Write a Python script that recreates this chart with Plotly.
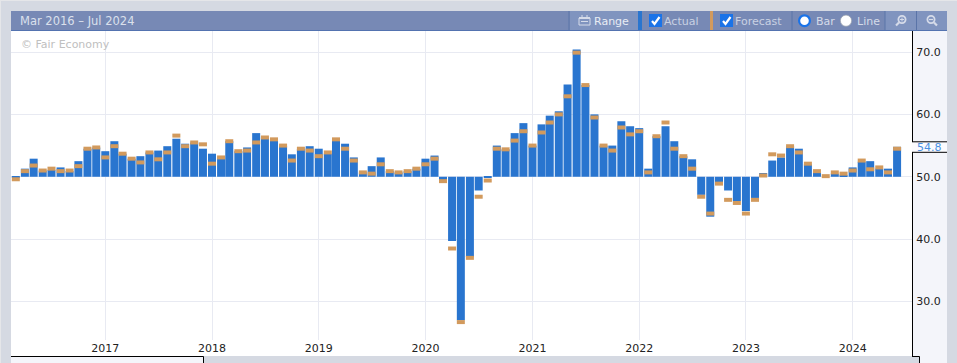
import plotly.graph_objects as go
import pandas as pd

months = pd.date_range("2016-03-01", periods=100, freq="MS").strftime("%Y-%m-%d").tolist()
actual = [49.9,51.3,52.9,51.0,51.1,51.5,50.9,52.5,54.5,54.7,
          54.1,55.7,53.7,52.9,53.3,53.9,54.2,54.9,56.1,55.3,55.5,54.5,
          53.7,53.1,55.7,54.1,54.7,57.0,56.3,56.0,55.0,53.6,54.5,54.9,
          54.5,53.7,56.0,55.3,53.1,50.7,51.7,53.1,50.9,50.7,50.9,51.3,
          52.9,53.4,49.3,39.7,27.0,37.1,47.8,49.9,55.0,54.4,57.0,58.6,
          55.0,58.4,59.8,60.5,64.8,70.4,64.7,60.0,55.0,55.0,58.9,58.1,
          57.8,51.3,56.5,58.1,55.7,53.3,52.8,47.1,43.6,49.1,47.8,46.1,
          44.5,46.6,50.6,52.6,53.1,54.9,54.5,52.0,50.7,50.0,50.5,50.3,
          51.5,52.4,52.5,51.3,51.3,54.8]
forecast = [49.6,50.9,51.8,51.0,51.3,50.9,51.0,51.7,54.5,54.7,
            53.1,54.9,53.7,52.9,52.3,53.9,52.8,53.9,56.6,54.9,55.5,55.2,
            52.1,53.1,55.7,54.1,54.2,55.5,56.3,56.0,55.0,52.6,54.5,54.2,
            53.3,53.9,56.0,54.5,52.6,50.7,50.5,52.0,50.9,50.7,50.9,51.3,
            52.0,52.9,49.3,38.5,26.7,37.0,46.8,49.4,54.5,54.4,55.8,57.3,
            55.0,57.1,58.7,60.0,62.9,69.9,64.7,59.5,55.0,54.2,57.9,56.8,
            57.3,50.7,56.5,58.7,54.5,53.3,51.3,46.8,44.1,48.9,46.3,45.8,
            44.1,46.3,50.2,53.6,53.4,54.9,53.9,52.1,50.9,50.1,50.7,50.5,
            51.0,52.6,51.2,51.5,50.7,54.5]
year_ticks = ["2017-01-01","2018-01-01","2019-01-01","2020-01-01",
              "2021-01-01","2022-01-01","2023-01-01","2024-01-01"]
year_labels = ["2017","2018","2019","2020","2021","2022","2023","2024"]
value_ticks = [30, 40, 50, 60, 70]
value_labels = ["30.0","40.0","50.0","60.0","70.0"]
period_label = "Mar 2016 – Jul 2024"

W, H = 957, 363
L, R, T, B = 11, 912, 31, 340
FONT = "DejaVu Sans"
BLUE, ORANGE = "#2975cf", "#d29a5d"
BG, PANEL, HEAD, HEAD2 = "#d5d9e2", "#f4f5fa", "#7789b5", "#8094bf"
SEP = "#5a74a8"
GRID = "#e8eaf2"
ICON = "#d5dbe9"
BASE = 50
MARK = 0.64
BAR_MS = 27.36 * 86400000

px = lambda x: x / W
py = lambda y: 1 - y / H

fig = go.Figure()
# opacity just below 1 makes Plotly snap the bar edges to whole pixels, with no stroke halo
fig.add_bar(x=months, y=[a - BASE for a in actual], base=[BASE] * len(actual),
            width=BAR_MS, marker=dict(color=BLUE, opacity=0.999, line_width=0),
            name="Actual", hoverinfo="skip")
fig.add_bar(x=months, y=[MARK] * len(forecast), base=[f - MARK / 2 for f in forecast],
            width=BAR_MS, marker=dict(color=ORANGE, opacity=0.999, line_width=0),
            name="Forecast", hoverinfo="skip")
# clipped "2016" tick label at the left edge, hidden by the frame shape except for its tail
fig.add_scatter(x=["2016-01-01"], y=[22.4], mode="text", text=["2016"], cliponaxis=False,
                textfont=dict(family=FONT, size=11, color="#222"), hoverinfo="skip", showlegend=False)

shapes = []
def rect(x0, y0, x1, y1, color, layer="below", line=None):
    shapes.append(dict(type="rect", xref="paper", yref="paper", x0=px(x0), x1=px(x1),
                       y0=py(y1), y1=py(y0), fillcolor=color, layer=layer,
                       line=dict(width=0) if line is None else line))
def seg(x0, y0, x1, y1, color="#000", width=1, layer="above"):
    shapes.append(dict(type="line", xref="paper", yref="paper", x0=px(x0), x1=px(x1),
                       y0=py(y0), y1=py(y1), line=dict(color=color, width=width), layer=layer))
def circle(cx, cy, r, fill, lc, lw, layer="above"):
    shapes.append(dict(type="circle", xref="paper", yref="paper", x0=px(cx - r), x1=px(cx + r),
                       y0=py(cy + r), y1=py(cy - r), fillcolor=fill, layer=layer,
                       line=dict(color=lc, width=lw)))

def path(points, color, width, fill="rgba(0,0,0,0)", close=False):
    d = "M" + " L".join(f"{px(x):.5f},{py(y):.5f}" for x, y in points) + (" Z" if close else "")
    shapes.append(dict(type="path", xref="paper", yref="paper", path=d, fillcolor=fill,
                       line=dict(color=color, width=width), layer="above"))

# white plot ground down to the axis labels
rect(L, T, R, 356, "#ffffff")
# right axis panel
rect(912, T, 947, 356, PANEL)
rect(919, 356, 947, 363, PANEL)
rect(912, 142, 947, 152, "#fbfbfe")
seg(912.5, T, 912.5, 142); seg(912.5, 152, 912.5, 356.5)
seg(912, 141.8, 947, 141.8); seg(912, 152.3, 947, 152.3)
seg(912, 356.5, 919.5, 356.5); seg(919.5, 356.5, 919.5, 363)
# range navigator
rect(L, 356.5, 203, 363, PANEL)
seg(L, 356.5, 203.5, 356.5); seg(203.5, 356.5, 203.5, 363)
# frame, above the traces
rect(0, 0, L, 363, BG, "above")
rect(0, 0, 1, 363, "#e5e6e9", "above")
rect(0, 0, W, 1, "#e5e6e9", "above")
# header
rect(L, 11, 947, 31, HEAD, "above")
rect(L, 30, 947, 31, "#5373b0", "above")
rect(570, 11, 638, 30, HEAD2, "above")
rect(885, 11, 916, 30, HEAD2, "above")
rect(917, 11, 947, 30, HEAD2, "above")
for x in (569, 792, 885, 916.5):
    seg(x, 11, x, 30, SEP, 1)
rect(638, 11, 642, 30, BLUE, "above")
rect(710, 11, 713, 30, ORANGE, "above")

# checkboxes
for x0 in (649, 720):
    shapes.append(dict(type="rect", xref="paper", yref="paper", x0=px(x0), x1=px(x0 + 13),
                       y0=py(27), y1=py(14), fillcolor="#1a73e8", layer="above", line=dict(width=0)))
    path([(x0 + 3, 21), (x0 + 5.5, 24), (x0 + 10.5, 17)], "#ffffff", 2.2)
# radios
circle(804.5, 20.7, 5.4, "#ffffff", "#1a73e8", 2.2)
circle(846, 20.7, 5.6, "#ffffff", "#9aa0ac", 0.7)
# calendar icon
rect(579, 18, 590, 25, "rgba(0,0,0,0)", "above", dict(color=ICON, width=1))
seg(579, 18, 590, 18, ICON, 2)
seg(582, 15, 582, 18, ICON, 1); seg(587, 15, 587, 18, ICON, 1)
seg(581, 21.5, 588, 21.5, ICON, 1)
# zoom icons
circle(902, 19.5, 3.6, "rgba(0,0,0,0)", ICON, 1.8)
seg(899, 22.5, 896, 25.5, ICON, 2.2)
seg(900, 19.5, 904, 19.5, ICON, 1); seg(902, 17.5, 902, 21.5, ICON, 1)
circle(931, 19.5, 3.6, "rgba(0,0,0,0)", ICON, 1.8)
seg(934, 22.5, 937, 25.5, ICON, 2.2)
seg(929, 19.5, 933, 19.5, ICON, 1.2)

def label(x, y, text, color, size=11, anchor="left"):
    return dict(xref="paper", yref="paper", x=px(x), y=py(y), text=text, showarrow=False,
                xanchor=anchor, yanchor="middle", xshift=0, yshift=0,
                font=dict(family=FONT, size=size, color=color), borderpad=0, borderwidth=0)

annotations = [
    label(20, 21, period_label, "#dbe0ec", 11.5),
    label(594, 21, "Range", "#e8ecf4"),
    label(664, 21, "Actual", "#c9d1e3"),
    label(735, 21, "Forecast", "#c9d1e3"),
    label(816, 21, "Bar", "#d5dbe9"),
    label(857, 21, "Line", "#d5dbe9"),
    label(21, 44, "© Fair Economy", "#c0c0c0"),
    label(917, 147, f"{actual[-1]:.1f}", "#4a90e2"),
]

fig.update_layout(
    width=W, height=H, autosize=False,
    margin=dict(l=0, r=0, t=0, b=0, pad=0),
    paper_bgcolor=BG, plot_bgcolor="#ffffff",
    barmode="overlay", showlegend=False,
    font=dict(family=FONT, size=11, color="#222"),
    shapes=shapes, annotations=annotations,
    xaxis=dict(type="date", range=["2016-02-13 12:00", "2024-07-22"], tickvals=year_ticks, ticktext=year_labels,
               domain=[L / W, R / W], automargin=False,
               showgrid=True, gridcolor=GRID, gridwidth=1, zeroline=False, showline=False,
               ticks="", ticklen=0, tickangle=0,
               tickfont=dict(family=FONT, size=11, color="#222")),
    yaxis=dict(side="right", range=[23.83, 73.37], tickvals=value_ticks, ticktext=value_labels,
               domain=[1 - B / H, 1 - T / H], automargin=False,
               showgrid=True, gridcolor=GRID, gridwidth=1, zeroline=False, showline=False,
               ticks="outside", ticklen=1, tickcolor="rgba(0,0,0,0)",
               tickfont=dict(family=FONT, size=11, color="#222")),
)

fig.write_html("out.html", config=dict(displayModeBar=False, responsive=False),
               post_script="document.body.style.margin='0';document.body.style.overflow='hidden';")
